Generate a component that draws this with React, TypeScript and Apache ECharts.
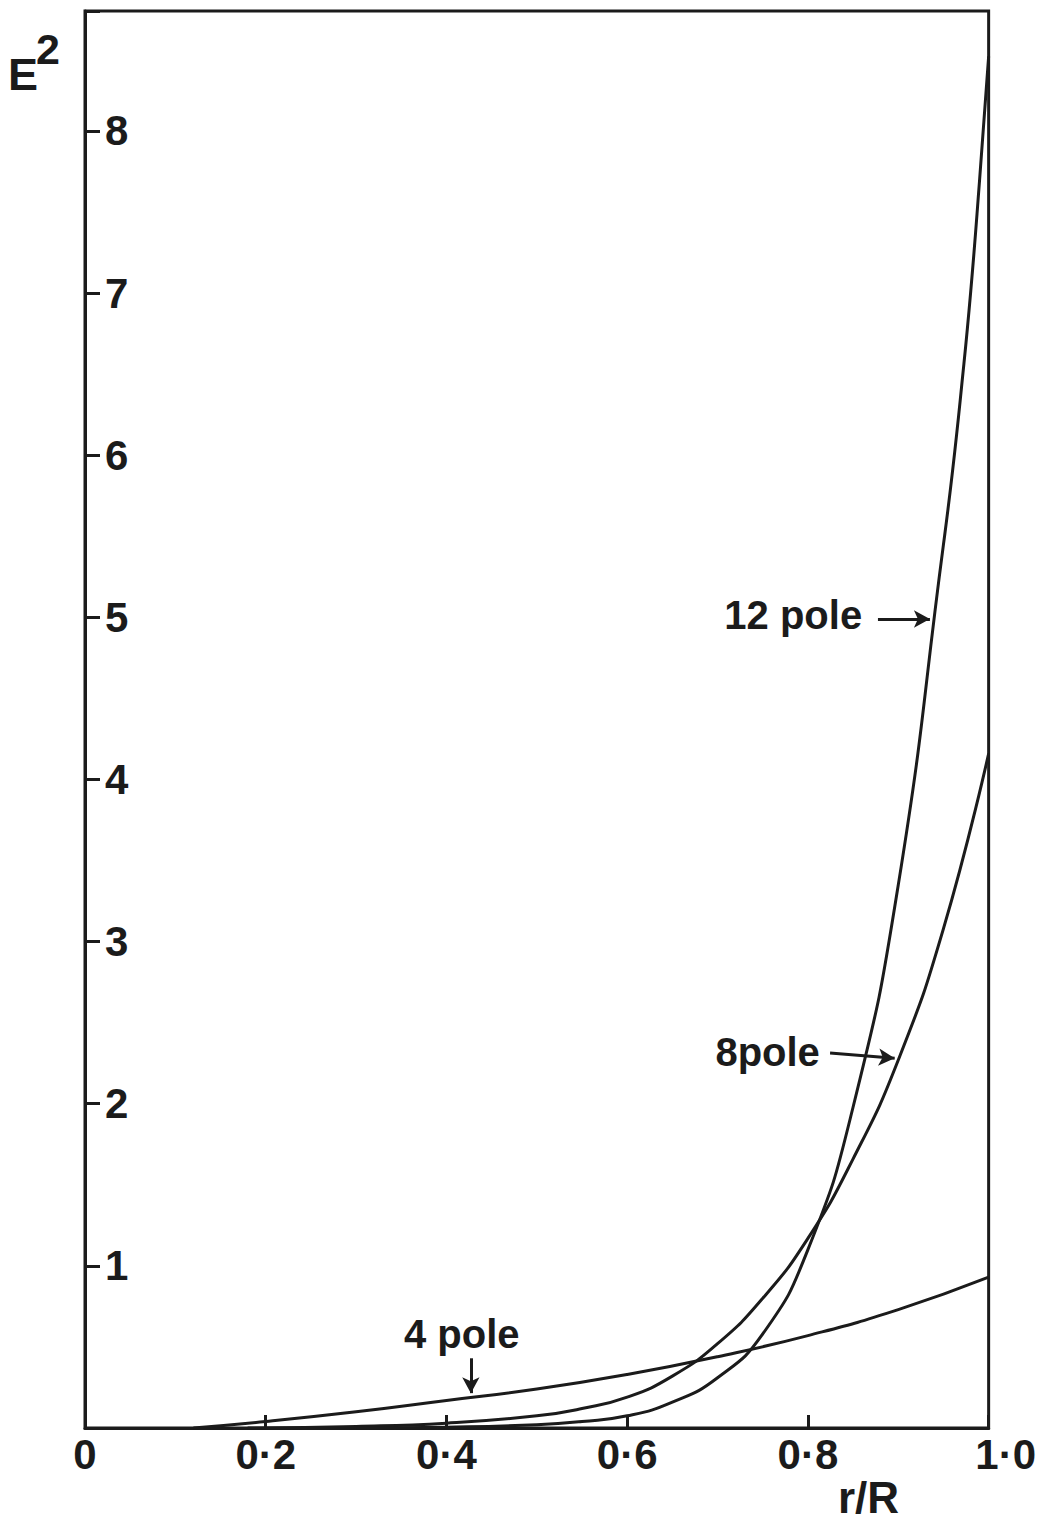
import React, { useEffect, useRef } from "react";
import * as echarts from "echarts";

// ---- data ----
const xTickValues = [0, 0.2, 0.4, 0.6, 0.8, 1.0];
const xTickLabels = ["0", "0·2", "0·4", "0·6", "0·8", "1·0"];
const yTickValues = [1, 2, 3, 4, 5, 6, 7, 8];

const pole4X = [0.12, 0.2, 0.3, 0.4, 0.5, 0.6, 0.7, 0.8, 0.9, 1.0];
const pole4Y = [0, 0.04, 0.1, 0.17, 0.24, 0.33, 0.44, 0.57, 0.73, 0.93];

const pole8X = [0.18, 0.3, 0.4, 0.5, 0.55, 0.6, 0.65, 0.7, 0.75, 0.8, 0.85, 0.9, 0.95, 1.0];
const pole8Y = [0, 0.01, 0.03, 0.075, 0.12, 0.19, 0.32, 0.52, 0.8, 1.17, 1.66, 2.27, 3.08, 4.16];

const pole12X = [0.3, 0.4, 0.5, 0.55, 0.6, 0.65, 0.7, 0.75, 0.8, 0.85, 0.9, 0.95, 0.96, 0.97, 0.98, 0.99, 1.0];
const pole12Y = [0, 0.005, 0.02, 0.04, 0.075, 0.16, 0.31, 0.58, 1.1, 1.98, 3.35, 5.45, 5.9, 6.42, 7.0, 7.7, 8.46];

const labelTexts = ["12 pole", "8pole", "4 pole"];
const labelX = [0.7075, 0.6976, 0.353];
const labelY = [5.015, 2.32, 0.58];

const arrowFromX = [0.8775, 0.8245, 0.427];
const arrowFromY = [4.99, 2.313, 0.43];
const arrowToX = [0.935, 0.896, 0.427];
const arrowToY = [4.99, 2.28, 0.215];

const Y_MAX = 8.74;

const INK = "#1b1b1b";
const FONT = "'Liberation Sans', Arial, sans-serif";

function pair(xs: number[], ys: number[]) {
  return xs.map((x, i) => [x, ys[i]]);
}

export default function App() {
  const ref = useRef<HTMLDivElement>(null);

  useEffect(() => {
    if (!ref.current) return;
    const chart = echarts.init(ref.current, undefined, { renderer: "svg" });

    const lineSeries = (name: string, data: number[][]) => ({
      name,
      type: "line",
      data,
      showSymbol: false,
      smooth: 0.5,
      lineStyle: { color: INK, width: 3 },
      z: 3,
    });

    const option: any = {
      animation: false,
      backgroundColor: "#ffffff",
      grid: {
        left: 85,
        top: 11,
        width: 906,
        height: 1417,
        show: true,
        borderColor: INK,
        borderWidth: 3,
        backgroundColor: "transparent",
      },
      xAxis: {
        type: "value",
        min: 0,
        max: 1,
        interval: 0.2,
        axisLine: { show: true, onZero: false, lineStyle: { color: INK, width: 3 } },
        axisTick: { show: true, inside: true, length: 13, lineStyle: { color: INK, width: 3 } },
        splitLine: { show: false },
        axisLabel: {
          margin: 5,
          color: INK,
          fontFamily: FONT,
          fontWeight: "bold",
          fontSize: 42,
          formatter: (v: number) => {
            const i = xTickValues.findIndex((t) => Math.abs(t - v) < 1e-6);
            if (i < 0) return "";
            return i === xTickValues.length - 1 ? "{r|" + xTickLabels[i] + "}" : xTickLabels[i];
          },
          rich: {
            r: {
              padding: [0, 0, 0, 34],
              color: INK,
              fontFamily: FONT,
              fontWeight: "bold",
              fontSize: 42,
            },
          },
        },
      },
      yAxis: {
        type: "value",
        min: 0,
        max: Y_MAX,
        interval: 1,
        axisLine: { show: true, onZero: false, lineStyle: { color: INK, width: 3 } },
        axisTick: { show: true, inside: true, length: 15, lineStyle: { color: INK, width: 3 } },
        splitLine: { show: false },
        axisLabel: {
          inside: true,
          margin: 20,
          color: INK,
          fontFamily: FONT,
          fontWeight: "bold",
          fontSize: 42,
          padding: [0, 0, 8, 0],
          formatter: (v: number) => (yTickValues.indexOf(v) >= 0 ? String(v) : ""),
        },
      },
      series: [
        lineSeries("4 pole", pair(pole4X, pole4Y)),
        lineSeries("8 pole", pair(pole8X, pole8Y)),
        {
          ...lineSeries("12 pole", pair(pole12X, pole12Y)),
          markLine: {
            silent: true,
            symbol: ["none", "arrow"],
            symbolSize: [13, 16],
            label: { show: false },
            lineStyle: { color: INK, width: 3, type: "solid" },
            data: arrowFromX.map((x, i) => [
              { coord: [x, arrowFromY[i]] },
              { coord: [arrowToX[i], arrowToY[i]] },
            ]),
          },
        },
      ],
    };

    chart.setOption(option);

    const textStyle = (text: string, size: number) => ({
      text,
      fill: INK,
      fontFamily: FONT,
      fontWeight: "bold",
      fontSize: size,
    });

    const graphics: any[] = labelTexts.map((t, i) => {
      const p = chart.convertToPixel({ gridIndex: 0 }, [labelX[i], labelY[i]]) as number[];
      return {
        type: "text",
        x: p[0],
        y: p[1],
        style: { ...textStyle(t, 40), textAlign: "left", textVerticalAlign: "middle" },
        z: 10,
      };
    });

    graphics.push(
      {
        type: "text",
        left: 8,
        top: 52,
        style: textStyle("E", 45),
        z: 10,
      },
      {
        type: "text",
        left: 36,
        top: 27,
        style: textStyle("2", 43),
        z: 10,
      },
      {
        type: "text",
        left: 838,
        top: 1475,
        style: { ...textStyle("r/R", 44), letterSpacing: 5 },
        z: 10,
      }
    );

    chart.setOption({ graphic: graphics });

    return () => chart.dispose();
  }, []);

  return (
    <div
      ref={ref}
      style={{ position: "absolute", left: 0, top: 0, width: 1039, height: 1525, background: "#fff" }}
    />
  );
}
